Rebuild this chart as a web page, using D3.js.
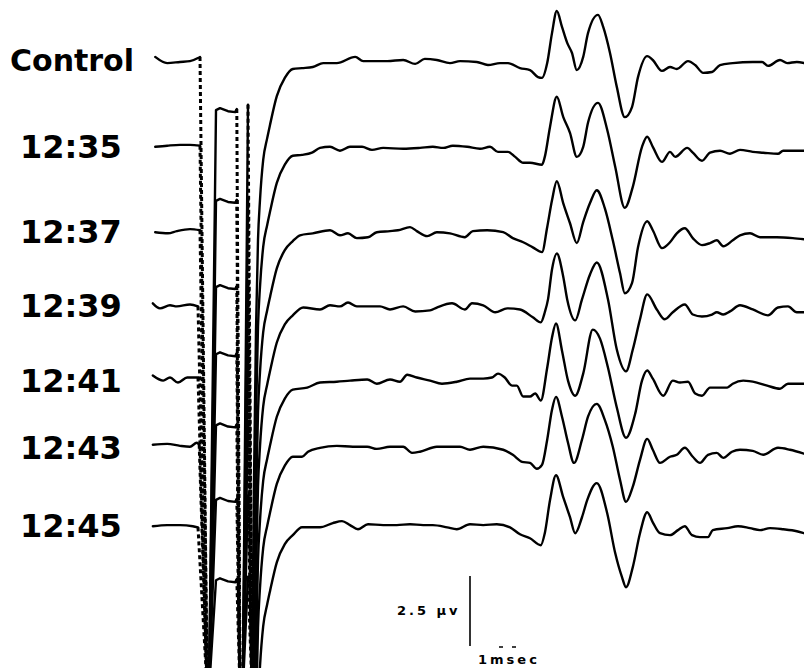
<!DOCTYPE html>
<html>
<head>
<meta charset="utf-8">
<script src="https://cdn.jsdelivr.net/npm/d3@7"></script>
<style>
    body { margin: 0; background: #fff; }
    svg { display: block; background: #fff; }
    .trace { fill: none; stroke: #000; stroke-width: 2.4; stroke-linejoin: round; stroke-linecap: round; }
    .fast { fill: none; stroke: #000; stroke-width: 3; stroke-dasharray: 4, 3; }
    .label { font-family: "DejaVu Sans", sans-serif; font-weight: bold; fill: #000; }
</style>
</head>
<body>
<svg id="chart" width="804" height="668"></svg>
<script>
// time in ms from sweep start, amplitude in µV relative to each trace's own baseline
var labels = ['Control', '12:35', '12:37', '12:39', '12:41', '12:43', '12:45'];
// vertical spacing of the sweeps, µV
var offsets = [0, -3.1, -6.15, -8.8, -11.45, -13.85, -16.65];
// stimulus artifact: top of the square pulse and of the spike after it
var pulseTops = [-1.79, -1.93, -1.96, -1.71, -1.6, -1.86, -1.93];
var spikeTops = [-1.6, -1.8, -1.8, -1.55, -1.45, -1.7, -1.8];
// pen limit, µV on the Control scale
var saturation = -22.5;
var pulseShape = [[0.7, 0], [0.75, 0.07], [0.85, -0.04], [0.94, -0.07], [0.96, 0.04]];
var recoveryShape = [[1.14, -25], [1.175, -15], [1.2, -9.64], [1.225, -6.43], [1.25, -5], [1.29, -3.57],
    [1.34, -2.79], [1.375, -2.32], [1.46, -1.29], [1.56, -0.64], [1.66, -0.32]];

var control = [[-0.06, 0.11], [0.09, -0.11], [0.25, -0.07], [0.375, -0.04], [0.475, 0.07], [0.5, 0.11],
    [1.775, -0.29], [1.91, -0.25], [2.04, -0.11], [2.21, -0.11], [2.44, 0.11], [2.54, -0.04], [2.84, -0.04],
    [3.04, 0], [3.19, -0.14], [3.31, 0.04], [3.46, 0], [3.625, -0.11], [3.75, -0.04], [3.96, -0.07], [4.1, -0.18],
    [4.25, -0.11], [4.35, -0.11], [4.5, -0.29], [4.625, -0.36], [4.725, -0.61], [4.775, -0.64], [4.84, -0.11],
    [4.9, 0.96], [4.96, 1.75], [5.025, 1.18], [5.09, 0.61], [5.15, 0.25], [5.21, -0.36], [5.29, 0.11], [5.35, 0.96],
    [5.475, 1.61], [5.54, 1.18], [5.625, 0.25], [5.71, -0.96], [5.81, -2.04], [5.9, -1.68], [5.975, -0.61],
    [6.09, 0.14], [6.16, 0], [6.275, -0.39], [6.375, -0.25], [6.46, -0.32], [6.6, -0.04], [6.69, -0.18],
    [6.79, -0.46], [6.9, -0.43], [7.0, -0.18], [7.16, -0.11], [7.41, -0.07], [7.525, -0.07], [7.6, -0.21],
    [7.75, 0], [7.84, -0.11], [7.96, -0.07], [8.05, -0.11]];

var t1235 = [[-0.06, 0], [0.09, 0.04], [0.25, 0.07], [0.375, 0.07], [0.5, 0.04],
    [1.775, -0.29], [1.9, -0.21], [2.0, -0.04], [2.125, 0], [2.25, -0.14], [2.375, 0], [2.525, 0], [2.65, -0.11],
    [2.79, -0.04], [3.04, -0.07], [3.25, -0.04], [3.41, 0], [3.54, -0.04], [3.66, 0.04], [3.84, 0], [4.0, -0.07],
    [4.125, 0], [4.225, -0.18], [4.35, -0.18], [4.44, -0.36], [4.54, -0.57], [4.625, -0.57], [4.775, -0.64],
    [4.81, -0.36], [4.875, 0.71], [4.96, 1.79], [5.04, 1.07], [5.125, 0.5], [5.21, -0.36], [5.29, 0], [5.35, 0.86],
    [5.475, 1.57], [5.59, 0.61], [5.69, -0.71], [5.81, -2.18], [5.91, -1.43], [6.025, 0], [6.09, 0.36], [6.16, 0],
    [6.275, -0.54], [6.375, -0.18], [6.44, -0.36], [6.59, -0.04], [6.66, -0.21], [6.775, -0.5], [6.875, -0.21],
    [7.0, -0.14], [7.125, -0.25], [7.25, -0.11], [7.41, -0.18], [7.54, -0.21], [7.725, -0.25], [7.79, -0.14],
    [8.05, -0.14]];

var t1237 = [[-0.06, 0], [0.1, -0.04], [0.21, 0.04], [0.375, 0.11], [0.5, 0.07],
    [1.75, -0.11], [1.91, -0.04], [2.125, 0.07], [2.25, -0.11], [2.35, -0.04], [2.46, -0.21], [2.6, -0.18],
    [2.71, 0], [2.875, 0.04], [2.975, 0.07], [3.125, 0.18], [3.21, 0.04], [3.34, -0.14], [3.46, 0], [3.625, -0.04],
    [3.81, -0.18], [3.91, 0.04], [4.09, 0.07], [4.29, 0], [4.41, -0.21], [4.54, -0.36], [4.66, -0.54],
    [4.775, -0.71], [4.84, 0.18], [4.9, 1.14], [4.96, 1.82], [5.04, 1.04], [5.125, 0.32], [5.21, -0.39],
    [5.29, 0.36], [5.375, 1.04], [5.46, 1.5], [5.56, 0.86], [5.66, -0.29], [5.75, -1.46], [5.81, -2.18],
    [5.9, -1.82], [5.975, -0.54], [6.09, 0.39], [6.16, 0.07], [6.275, -0.57], [6.375, -0.36], [6.46, -0.04],
    [6.56, 0.14], [6.66, -0.21], [6.775, -0.46], [6.875, -0.39], [6.96, -0.29], [7.04, -0.5], [7.16, -0.29],
    [7.25, -0.11], [7.375, -0.04], [7.5, -0.18], [7.71, -0.18], [7.91, -0.21], [8.05, -0.25]];

var t1239 = [[-0.09, 0.11], [0, -0.07], [0.125, 0.04], [0.21, 0], [0.375, 0.07], [0.475, 0],
    [1.79, -0.04], [2.0, -0.11], [2.125, 0.04], [2.25, 0], [2.35, 0.14], [2.46, 0], [2.625, 0], [2.75, 0],
    [2.875, -0.11], [3.04, 0], [3.19, -0.18], [3.375, -0.14], [3.46, -0.04], [3.65, 0.11], [3.81, -0.11],
    [3.9, 0.11], [4.04, 0.04], [4.19, -0.21], [4.34, -0.07], [4.5, -0.11], [4.66, -0.39], [4.76, -0.57],
    [4.81, -0.21], [4.85, 0.25], [4.9, 1.32], [4.96, 1.89], [5.04, 1.07], [5.09, 0.25], [5.19, -0.5],
    [5.275, 0.25], [5.375, 1.14], [5.46, 1.57], [5.6, 0.25], [5.71, -1.54], [5.825, -2.32], [5.91, -1.54],
    [6.0, -0.46], [6.09, 0.43], [6.21, -0.11], [6.31, -0.46], [6.41, -0.21], [6.56, 0.07], [6.66, -0.29],
    [6.775, -0.36], [6.9, -0.29], [6.96, -0.21], [7.04, -0.29], [7.125, -0.18], [7.25, 0.04], [7.41, -0.11],
    [7.6, -0.32], [7.725, -0.04], [7.85, 0], [7.96, -0.21], [8.05, -0.21]];

var t1241 = [[-0.09, 0.18], [0.04, 0], [0.125, 0.11], [0.225, -0.07], [0.34, 0.11], [0.475, 0.11],
    [1.84, -0.25], [2.0, -0.07], [2.21, -0.04], [2.375, 0], [2.59, 0.04], [2.71, -0.11], [2.875, 0.04],
    [3.0, -0.04], [3.09, 0.21], [3.21, 0.11], [3.375, 0], [3.525, -0.11], [3.71, -0.04], [3.875, 0.07],
    [4.04, 0.07], [4.15, 0.11], [4.225, 0.25], [4.31, 0.11], [4.4, -0.18], [4.46, -0.18], [4.54, -0.57],
    [4.625, -0.57], [4.69, -0.46], [4.76, -0.71], [4.84, 0.46], [4.9, 1.54], [4.95, 2.04], [5.025, 1.07],
    [5.1, 0], [5.19, -0.54], [5.29, 0.25], [5.41, 1.82], [5.5, 1.5], [5.6, 0.46], [5.71, -0.96], [5.825, -2.04],
    [5.94, -1.18], [6.025, 0], [6.09, 0.36], [6.16, 0.07], [6.29, -0.54], [6.41, 0], [6.5, -0.07], [6.6, -0.04],
    [6.69, -0.46], [6.775, -0.54], [6.875, -0.25], [7.09, -0.25], [7.16, -0.11], [7.29, 0], [7.46, -0.07],
    [7.59, -0.18], [7.75, -0.29], [7.85, -0.11], [8.05, -0.11]];

var t1243 = [[-0.09, 0.11], [0.09, 0.14], [0.25, 0.07], [0.375, 0.04], [0.46, 0.18], [0.49, 0.11],
    [1.775, -0.32], [1.85, -0.14], [2.0, 0], [2.21, 0.07], [2.41, 0.04], [2.59, 0.04], [2.71, -0.04],
    [2.875, 0.04], [3.04, 0.04], [3.15, -0.18], [3.25, -0.14], [3.46, 0.04], [3.625, 0.04], [3.75, 0.04],
    [3.875, -0.07], [4.04, 0.04], [4.29, -0.07], [4.41, -0.25], [4.525, -0.5], [4.625, -0.54], [4.71, -0.75],
    [4.775, -0.61], [4.84, 0.29], [4.9, 1.36], [4.95, 1.82], [5.025, 1.11], [5.1, 0.18], [5.175, -0.54],
    [5.275, 0.29], [5.35, 1.11], [5.46, 1.57], [5.56, 1.0], [5.66, 0.04], [5.75, -1.14], [5.825, -1.93],
    [5.91, -1.39], [6.0, -0.43], [6.09, 0.32], [6.16, -0.07], [6.25, -0.54], [6.375, -0.32], [6.46, -0.25],
    [6.56, 0], [6.66, -0.32], [6.75, -0.54], [6.85, -0.25], [6.96, -0.18], [7.04, -0.36], [7.15, -0.14],
    [7.25, -0.07], [7.41, -0.11], [7.54, -0.25], [7.725, 0], [7.875, -0.07], [8.05, -0.21]];

var t1245 = [[-0.09, 0], [0.09, 0.04], [0.25, 0.04], [0.41, 0], [0.475, -0.04],
    [1.775, -0.04], [2.0, -0.04], [2.16, 0.11], [2.275, 0.18], [2.375, 0.04], [2.475, -0.11], [2.6, 0.07],
    [2.79, 0.04], [2.96, 0.04], [3.125, 0.07], [3.29, 0.04], [3.41, 0.04], [3.59, -0.04], [3.71, -0.11],
    [3.875, 0.07], [4.04, 0.04], [4.21, 0.07], [4.375, -0.04], [4.5, -0.29], [4.625, -0.43], [4.76, -0.68],
    [4.81, -0.25], [4.875, 0.93], [4.95, 1.82], [5.04, 1.04], [5.125, 0.32], [5.19, -0.25], [5.275, 0.32],
    [5.34, 0.93], [5.46, 1.54], [5.59, 0.46], [5.69, -0.96], [5.775, -1.82], [5.825, -2.18], [5.91, -1.46],
    [6.0, -0.25], [6.09, 0.5], [6.16, 0.14], [6.25, -0.25], [6.375, -0.32], [6.475, -0.14], [6.56, 0],
    [6.65, -0.32], [6.75, -0.39], [6.85, -0.39], [6.91, -0.14], [7.09, -0.07], [7.225, 0], [7.375, -0.07],
    [7.5, -0.14], [7.625, -0.07], [7.79, -0.11], [7.96, -0.18], [8.05, -0.25]];

var sweeps = [control, t1235, t1237, t1239, t1241, t1243, t1245];

var svg = d3.select('#chart');
var x = d3.scaleLinear().domain([0, 8]).range([160, 800]);
var y = d3.scaleLinear().domain([0, -20]).range([60, 620]);

var smooth = d3.line()
    .x(function(d) { return x(d[0]); })
    .y(function(d) { return y(d[1]); })
    .curve(d3.curveMonotoneX);
var straight = d3.line()
    .x(function(d) { return x(d[0]); })
    .y(function(d) { return y(d[1]); });

sweeps.forEach(function(data, i) {
    var off = offsets[i];
    var shift = function(d) { return [d[0], off + d[1]]; };
    var pre = data.filter(function(d) { return d[0] <= 0.5; }).map(shift);
    var post = data.filter(function(d) { return d[0] > 1; }).map(shift);
    var top = off + pulseTops[i];
    var spike = off + spikeTops[i];
    var pulse = [[0.6125, saturation]].concat(pulseShape.map(function(d) { return [d[0], top + d[1]]; }));
    var last = pulse[pulse.length - 1];
    var recovery = recoveryShape.map(shift).concat(post);

    var g = svg.append('g').attr('class', 'sweep');
    // slow parts of the sweep, drawn solid
    g.append('path').attr('class', 'trace').attr('d', smooth(pre));
    g.append('path').attr('class', 'trace').attr('d', straight(pulse));
    g.append('path').attr('class', 'trace').attr('d', straight([[1.035, saturation], [1.1, spike]]));
    g.append('path').attr('class', 'trace').attr('d', smooth(recovery));
    // fast pen movements only leave dots on the paper
    g.append('path').attr('class', 'fast').attr('d', straight([pre[pre.length - 1], [0.59, saturation]]));
    g.append('path').attr('class', 'fast').attr('d', straight([last, [1.0, saturation]]));
    g.append('path').attr('class', 'fast').attr('d', straight([[1.1, spike], [1.15, saturation]]));

    svg.append('text')
        .attr('class', 'label')
        .attr('x', i === 0 ? 10 : 20)
        .attr('y', y(off) + 11)
        .style('font-size', i === 0 ? '30px' : '32px')
        .text(labels[i]);
});

// calibration: 2.5 µV vertical, 1 msec horizontal (only faint dots of it printed)
var barX = 470, barBottom = 646;
svg.append('line')
    .attr('x1', barX).attr('x2', barX)
    .attr('y1', barBottom).attr('y2', barBottom - (y(0) - y(2.5)))
    .attr('stroke', '#000').attr('stroke-width', 1.6);
svg.append('line')
    .attr('x1', 499).attr('x2', 516).attr('y1', 647).attr('y2', 647)
    .attr('stroke', '#000').attr('stroke-width', 1.4).attr('stroke-dasharray', '4,9,4');
svg.append('text').attr('class', 'label')
    .attr('x', 397).attr('y', 615)
    .style('font-size', '13px').style('letter-spacing', '3px')
    .text('2.5 µv');
svg.append('text').attr('class', 'label')
    .attr('x', 478).attr('y', 664)
    .style('font-size', '13px').style('letter-spacing', '3px')
    .text('1msec');
</script>
</body>
</html>
